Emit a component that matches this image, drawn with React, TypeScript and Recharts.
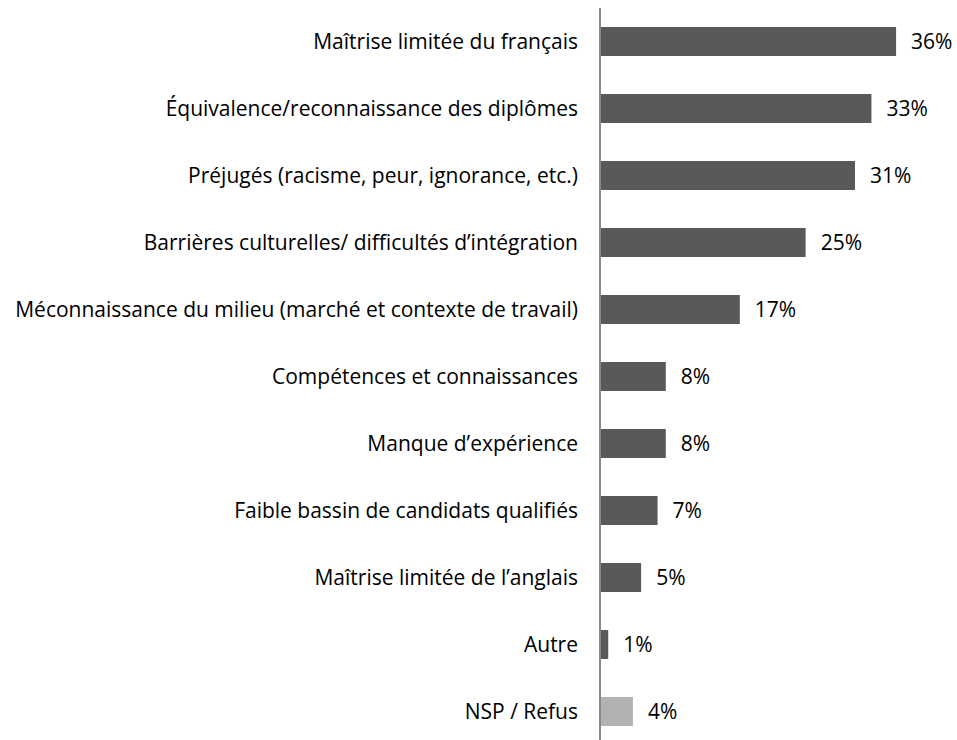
import { BarChart, Bar, XAxis, YAxis, Cell, LabelList } from "recharts";

const categories = [
  "Maîtrise limitée du français",
  "Équivalence/reconnaissance des diplômes",
  "Préjugés (racisme, peur, ignorance, etc.)",
  "Barrières culturelles/ difficultés d’intégration",
  "Méconnaissance du milieu (marché et contexte de travail)",
  "Compétences et connaissances",
  "Manque d’expérience",
  "Faible bassin de candidats qualifiés",
  "Maîtrise limitée de l’anglais",
  "Autre",
  "NSP / Refus",
];

const values = [36, 33, 31, 25, 17, 8, 8, 7, 5, 1, 4];

// the last one (NSP / Refus) is shown in light grey
const barColors = ["#595959", "#595959", "#595959", "#595959", "#595959", "#595959", "#595959", "#595959", "#595959", "#595959", "#b2b2b2"];

const data = categories.map((name, i) => ({ name, value: values[i] }));

const FONT = "'Open Sans', sans-serif";

export default function App() {
  return (
    <div style={{ width: 957, height: 740, overflow: "hidden", fontFamily: FONT }}>
      <style>{`body{margin:0}`}</style>
      <BarChart
        width={957}
        height={745}
        data={data}
        layout="vertical"
        margin={{ top: 8, right: 28, bottom: 0, left: 0 }}
      >
        <XAxis type="number" domain={[0, 40]} hide />
        <YAxis
          type="category"
          dataKey="name"
          width={600}
          axisLine={{ stroke: "#898989", strokeWidth: 2 }}
          tickLine={false}
          tickSize={0}
          tickMargin={22}
          tick={{ fontSize: 21, fill: "#000", fontFamily: FONT }}
          interval={0}
        />
        <Bar dataKey="value" barSize={29} isAnimationActive={false}>
          {data.map((d, i) => (
            <Cell key={d.name} fill={barColors[i]} />
          ))}
          <LabelList
            dataKey="value"
            position="right"
            offset={15}
            formatter={(v: any) => `${v}%`}
            style={{ fontSize: 21, fill: "#000", fontFamily: FONT }}
          />
        </Bar>
      </BarChart>
    </div>
  );
}
